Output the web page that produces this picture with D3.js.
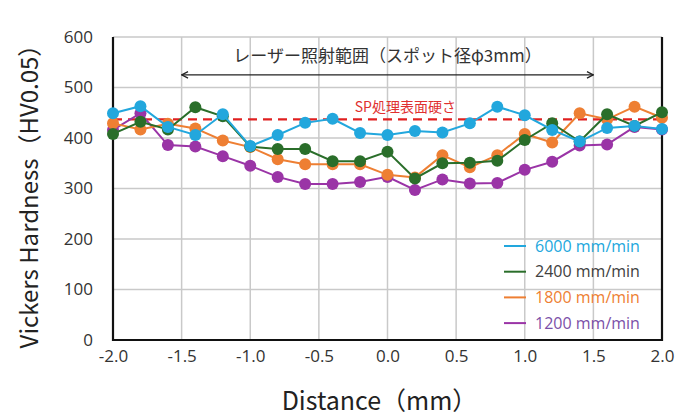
<!DOCTYPE html>
<html>
<head>
<meta charset="utf-8">
<script src="https://cdn.jsdelivr.net/npm/d3@7"></script>
<style>
  body { margin: 0; background: #fff; }
  text { font-family: "Noto Sans CJK JP", "Noto Sans", sans-serif; }
</style>
</head>
<body>
<script>
const width = 691;
const height = 417;

// distance positions (mm)
const distance = [-2.0, -1.8, -1.6, -1.4, -1.2, -1.0, -0.8, -0.6, -0.4, -0.2, 0.0,
                  0.2, 0.4, 0.6, 0.8, 1.0, 1.2, 1.4, 1.6, 1.8, 2.0];

const hv6000 = [449, 463, 422, 406, 447, 384, 406, 430, 438, 410, 406,
                414, 411, 429, 462, 445, 416, 393, 420, 424, 418];
const hv2400 = [408, 432, 417, 461, 443, 383, 378, 378, 354, 354, 373,
                320, 350, 351, 355, 396, 429, 393, 447, 424, 451];
const hv1800 = [429, 417, 428, 419, 395, 382, 358, 348, 348, 348, 327,
                322, 366, 342, 366, 408, 391, 449, 437, 462, 440];
const hv1200 = [416, 449, 386, 383, 364, 345, 323, 309, 309, 313, 323,
                297, 318, 310, 311, 337, 353, 385, 387, 422, 417];

const seriesNames = ["6000 mm/min", "2400 mm/min", "1800 mm/min", "1200 mm/min"];
const seriesColors = ["#22a7dd", "#2a6e2a", "#ee7f33", "#9a34a6"];
const legendTextColors = ["#22a7dd", "#404040", "#ee7f33", "#7b50a8"];
const seriesValues = [hv6000, hv2400, hv1800, hv1200];

const xTicks = [-2.0, -1.5, -1.0, -0.5, 0.0, 0.5, 1.0, 1.5, 2.0];
const yTicks = [0, 100, 200, 300, 400, 500, 600];
const spHardness = 437;
const laserRange = [-1.5, 1.5];

const margin = {top: 37, right: 29, bottom: 77, left: 113};

const x = d3.scaleLinear().domain([-2, 2]).range([margin.left, width - margin.right]);
const y = d3.scaleLinear().domain([0, 600]).range([height - margin.bottom, margin.top]);

const svg = d3.select("body").append("svg")
    .attr("width", width)
    .attr("height", height);

// gridlines
svg.append("g")
    .selectAll("line")
    .data(xTicks)
    .enter().append("line")
    .attr("x1", d => x(d)).attr("x2", d => x(d))
    .attr("y1", y(0)).attr("y2", y(600))
    .attr("stroke", "#c9c9c9")
    .attr("stroke-width", 1.5);
svg.append("g")
    .selectAll("line")
    .data(yTicks)
    .enter().append("line")
    .attr("x1", x(-2)).attr("x2", x(2))
    .attr("y1", d => y(d)).attr("y2", d => y(d))
    .attr("stroke", "#c9c9c9")
    .attr("stroke-width", 1.5);

// frame (left, right, bottom in black)
svg.append("path")
    .attr("d", `M${x(-2)},${y(600)}V${y(0)}H${x(2)}V${y(600)}`)
    .attr("fill", "none")
    .attr("stroke", "#111")
    .attr("stroke-width", 2.2);

// tick labels (plain hyphen for negatives, as in the original)
const fmt = d => d3.format(".1f")(d).replace("−", "-");
const xAxis = d3.axisBottom(x).tickValues(xTicks).tickFormat(fmt).tickSize(0).tickPadding(10);
svg.append("g")
    .attr("transform", `translate(0,${y(0)})`)
    .call(xAxis)
    .call(g => g.select(".domain").remove())
    .selectAll("text")
    .attr("font-size", 17)
    .attr("fill", "#333")
    .style("font-family", "'Open Sans', sans-serif");

const yAxis = d3.axisLeft(y).tickValues(yTicks).tickSize(0).tickPadding(20);
svg.append("g")
    .attr("transform", `translate(${x(-2)},0)`)
    .call(yAxis)
    .call(g => g.select(".domain").remove())
    .selectAll("text")
    .attr("font-size", 17)
    .attr("fill", "#333")
    .style("font-family", "'Open Sans', sans-serif");

// axis titles
svg.append("text")
    .attr("x", x(0) - 8)
    .attr("y", 410)
    .attr("text-anchor", "middle")
    .attr("font-size", 25)
    .attr("fill", "#222")
    .text("Distance（mm）");

svg.append("text")
    .attr("transform", `translate(38,${(y(0) + y(600)) / 2 + 2}) rotate(-90)`)
    .attr("text-anchor", "middle")
    .attr("font-size", 24)
    .attr("fill", "#222")
    .text("Vickers Hardness（HV0.05）");

// laser range arrow
svg.append("defs").selectAll("marker")
    .data(["start", "end"])
    .enter().append("marker")
    .attr("id", d => "arr-" + d)
    .attr("viewBox", "0 0 10 10")
    .attr("refX", d => d === "start" ? 1 : 9)
    .attr("refY", 5)
    .attr("markerWidth", 8)
    .attr("markerHeight", 8)
    .attr("markerUnits", "userSpaceOnUse")
    .attr("orient", "auto")
    .append("path")
    .attr("d", d => d === "start" ? "M9,1L1,5L9,9" : "M1,1L9,5L1,9")
    .attr("fill", "none")
    .attr("stroke", "#222")
    .attr("stroke-width", 1.6);

svg.append("line")
    .attr("x1", x(laserRange[0])).attr("x2", x(laserRange[1]))
    .attr("y1", y(525)).attr("y2", y(525))
    .attr("stroke", "#222")
    .attr("stroke-width", 1.3)
    .attr("marker-start", "url(#arr-start)")
    .attr("marker-end", "url(#arr-end)");

svg.append("text")
    .attr("x", x(0))
    .attr("y", y(550))
    .attr("text-anchor", "middle")
    .attr("font-size", 17)
    .attr("fill", "#333")
    .text("レーザー照射範囲（スポット径φ3mm）");

// SP hardness reference line
svg.append("line")
    .attr("x1", x(-2)).attr("x2", x(2))
    .attr("y1", y(spHardness)).attr("y2", y(spHardness))
    .attr("stroke", "#e02020")
    .attr("stroke-width", 2.2)
    .attr("stroke-dasharray", "9,6");

svg.append("text")
    .attr("x", x(0.13))
    .attr("y", y(spHardness) - 7)
    .attr("text-anchor", "middle")
    .attr("font-size", 14)
    .attr("fill", "#e03030")
    .text("SP処理表面硬さ");

// series, slowest drawn first so 6000 mm/min ends on top
const line = d3.line().x((d, i) => x(distance[i])).y(d => y(d));

seriesValues.map((vals, k) => k).reverse().forEach(k => {
    const vals = seriesValues[k];
    const g = svg.append("g");
    g.append("path")
        .datum(vals)
        .attr("d", line)
        .attr("fill", "none")
        .attr("stroke", seriesColors[k])
        .attr("stroke-width", 2);
    g.selectAll("circle")
        .data(vals)
        .enter().append("circle")
        .attr("cx", (d, i) => x(distance[i]))
        .attr("cy", d => y(d))
        .attr("r", 6)
        .attr("fill", seriesColors[k]);
});

// legend
const legend = svg.append("g");
seriesNames.forEach((name, k) => {
    const ly = 246 + k * 25.7;
    legend.append("line")
        .attr("x1", 504).attr("x2", 526)
        .attr("y1", ly).attr("y2", ly)
        .attr("stroke", seriesColors[k])
        .attr("stroke-width", 2);
    legend.append("text")
        .attr("x", 535)
        .attr("y", ly + 5.5)
        .attr("font-size", 16)
        .attr("fill", legendTextColors[k])
        .style("font-family", "'Open Sans', sans-serif")
        .text(name);
});
</script>
</body>
</html>
